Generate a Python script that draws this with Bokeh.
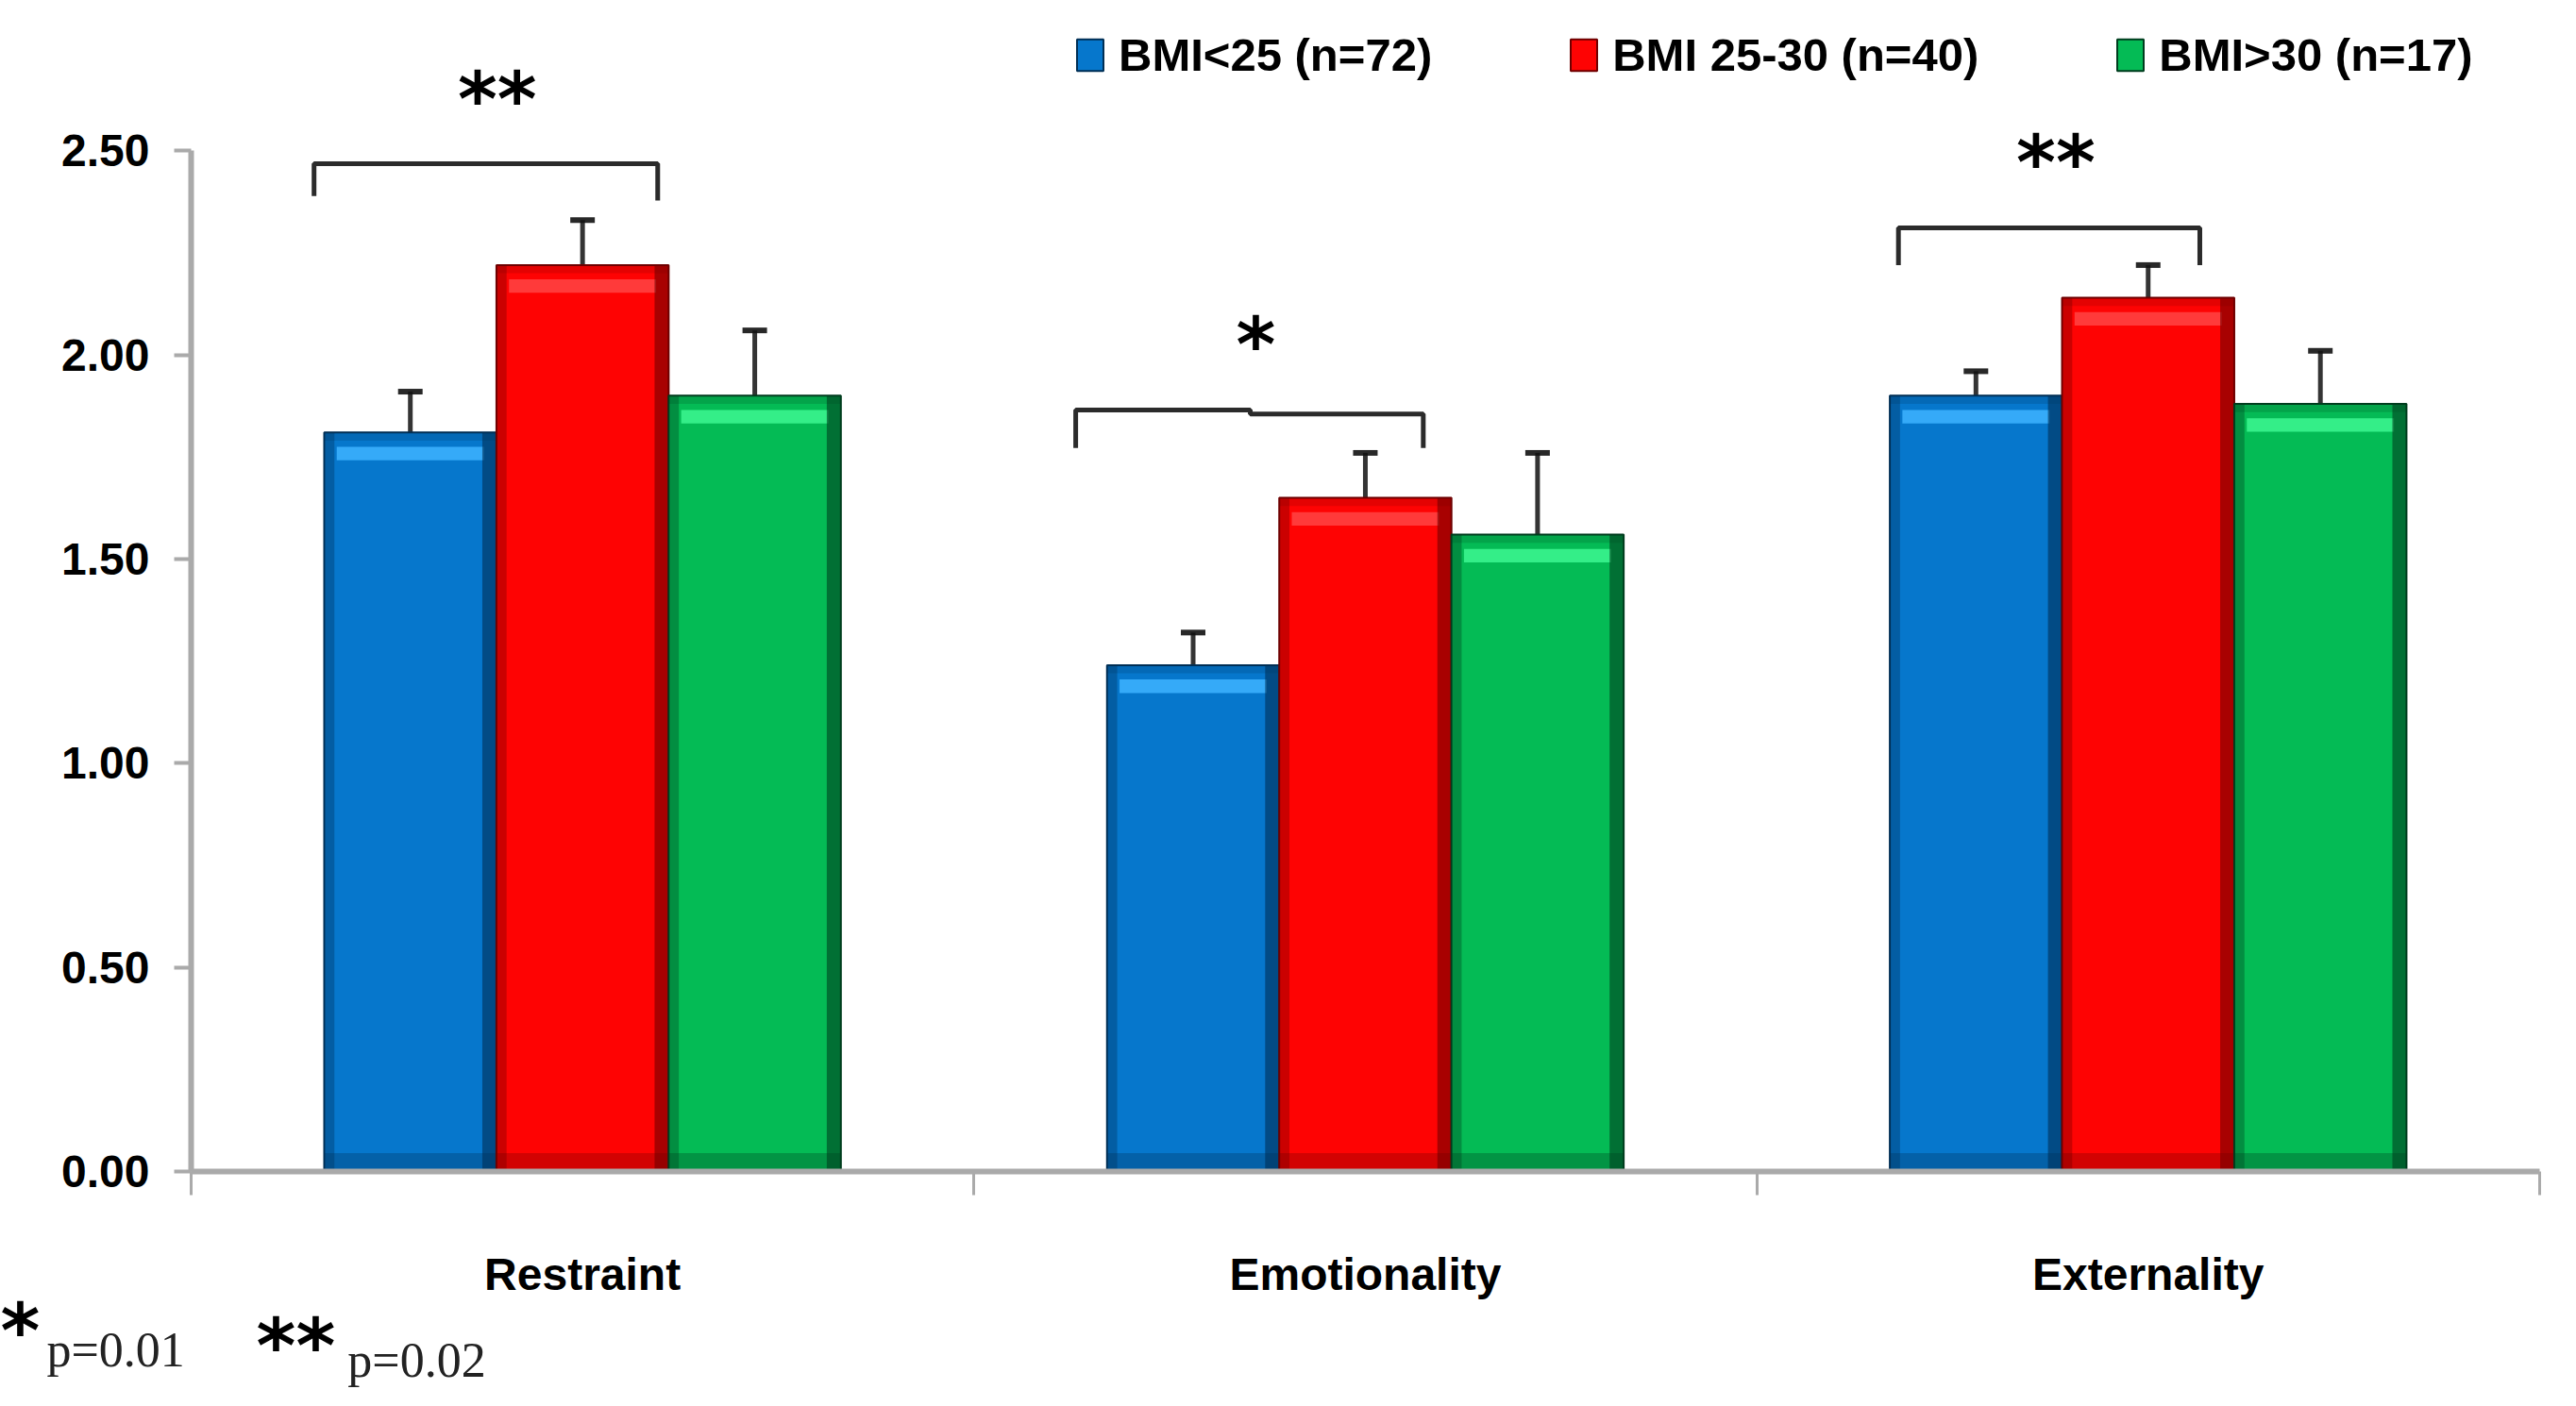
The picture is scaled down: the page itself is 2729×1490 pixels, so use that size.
from bokeh.plotting import figure
from bokeh.models import (ColumnDataSource, Range1d, FixedTicker, NumeralTickFormatter,
                          Whisker, TeeHead, Legend, LegendItem, Label)
from bokeh.core.properties import value
from bokeh.embed import file_html
from bokeh.resources import INLINE

# ---------------- data ----------------
categories = ["Restraint", "Emotionality", "Externality"]
series = ["BMI<25 (n=72)", "BMI 25-30 (n=40)", "BMI>30 (n=17)"]

bmi_low_mean = [1.81, 1.24, 1.90]
bmi_low_lower = [1.69, 1.14, 1.82]
bmi_low_upper = [1.91, 1.32, 1.96]

bmi_mid_mean = [2.22, 1.65, 2.14]
bmi_mid_lower = [2.08, 1.50, 2.05]
bmi_mid_upper = [2.33, 1.76, 2.22]

bmi_high_mean = [1.90, 1.56, 1.88]
bmi_high_lower = [1.71, 1.33, 1.70]
bmi_high_upper = [2.06, 1.76, 2.01]

y_ticks = [0.0, 0.5, 1.0, 1.5, 2.0, 2.5]

# significance brackets (x in category units, y in data units)
bracket_xs = [[0.157, 0.157, 0.596, 0.596],
              [1.130, 1.130, 1.353, 1.353, 1.574, 1.574],
              [2.181, 2.181, 2.566, 2.566]]
bracket_ys = [[2.389, 2.468, 2.468, 2.378],
              [1.772, 1.865, 1.865, 1.855, 1.855, 1.772],
              [2.220, 2.311, 2.311, 2.220]]
star_x = [0.391, 1.360, 2.382]
star_y = [2.673, 2.073, 2.520]
star_text = ["**", "*", "**"]

footnote_marks = ["*", "**"]
footnote_texts = ["p=0.01", "p=0.02"]

# ---------------- style ----------------
W, H = 2712, 1474
PX_X = 829.3      # pixels per category unit
PX_Y = 432.7      # pixels per y unit
X0_PX, Y0_PX, TOP_PX = 202, 1241, 12
main_cols = ["#0677cc", "#fe0303", "#04bb55"]
light_cols = ["#35aaf8", "#ff3a3a", "#34ee88"]
dark_cols = ["#002f55", "#6e0000", "#003d1e"]
bar_w = 0.22
offsets = [-bar_w, 0.0, bar_w]
label_font = "Liberation Sans"
axis_col = "#aaaaaa"
err_col = "#111111"

x_start = -X0_PX / PX_X
x_end = (W - X0_PX) / PX_X
y_end = (Y0_PX - TOP_PX) / PX_Y
y_start = -(H - Y0_PX) / PX_Y

p = figure(width=W, height=H, output_backend="svg", toolbar_location=None,
           x_range=Range1d(x_start, x_end), y_range=Range1d(y_start, y_end),
           min_border_left=0, min_border_right=0,
           min_border_top=TOP_PX, min_border_bottom=0)
p.outline_line_color = None
p.xgrid.visible = False
p.ygrid.visible = False
p.background_fill_color = "white"

means = [bmi_low_mean, bmi_mid_mean, bmi_high_mean]
lowers = [bmi_low_lower, bmi_mid_lower, bmi_high_lower]
uppers = [bmi_low_upper, bmi_mid_upper, bmi_high_upper]

legend_items = []
for s in range(3):
    xs = [i + 0.5 + offsets[s] for i in range(len(categories))]
    tops = means[s]
    src = ColumnDataSource(dict(
        x=xs, top=tops,
        xr=[x + bar_w / 2 - 0.009 for x in xs],
        xl=[x - bar_w / 2 + 0.007 for x in xs],
        hl_l=[x - bar_w / 2 + 0.016 for x in xs],
        hl_r=[x + bar_w / 2 - 0.016 for x in xs],
        hl_t=[t - 0.035 for t in tops],
        hl_b=[t - 0.068 for t in tops],
        rim_b=[t - 0.02 for t in tops],
        bl=[x - bar_w / 2 for x in xs],
        br=[x + bar_w / 2 for x in xs],
        lower=lowers[s], upper=uppers[s],
    ))
    r = p.vbar(x="x", width=bar_w, top="top", bottom=0, source=src,
               fill_color=main_cols[s], line_color=dark_cols[s], line_width=2)
    # bevel shading
    p.quad(left="bl", right="br", top="top", bottom="rim_b", source=src,
           fill_color=dark_cols[s], fill_alpha=0.18, line_color=None)
    p.quad(left="hl_l", right="hl_r", top="hl_t", bottom="hl_b", source=src,
           fill_color=light_cols[s], line_color=None)
    p.vbar(x="xr", width=0.018, top="top", bottom=0, source=src,
           fill_color=dark_cols[s], fill_alpha=0.6, line_color=None)
    p.vbar(x="xl", width=0.012, top="top", bottom=0, source=src,
           fill_color=dark_cols[s], fill_alpha=0.35, line_color=None)
    p.vbar(x="x", width=bar_w, top=0.045, bottom=0, source=src,
           fill_color=dark_cols[s], fill_alpha=0.3, line_color=None)
    # error bars
    wh = Whisker(source=src, base="x", lower="lower", upper="upper",
                 line_color=err_col, line_alpha=0.85, line_width=5,
                 upper_head=TeeHead(size=26, line_width=6, line_color=err_col, line_alpha=0.9),
                 lower_head=TeeHead(size=26, line_width=6, line_color=err_col, line_alpha=0.9))
    p.add_layout(wh)
    legend_items.append(LegendItem(label=series[s], renderers=[r]))

# significance brackets and stars
p.multi_line(xs=bracket_xs, ys=bracket_ys, line_color="#2b2b2b", line_width=5)
p.text(x=star_x, y=star_y, text=star_text, text_font=value("DejaVu Sans"),
       text_font_size="80px", text_font_style="bold", text_align="center",
       text_baseline="alphabetic", y_offset=21, text_color="black")

# legend (location in screen px from the frame's bottom-left corner)
frame_h = H - TOP_PX
legend = Legend(items=legend_items, orientation="horizontal",
                location=(1137, frame_h - 32 - 42),
                glyph_width=35, glyph_height=42, label_standoff=13, spacing=143,
                padding=0, margin=0, border_line_color=None, background_fill_alpha=0,
                label_text_font=label_font, label_text_font_size="49px",
                label_text_font_style="bold", label_text_color="black")
p.add_layout(legend)

# y axis (drawn at x = 0)
ya = p.yaxis[0]
ya.fixed_location = 0
ya.ticker = FixedTicker(ticks=y_ticks)
ya.formatter = NumeralTickFormatter(format="0.00")
ya.bounds = (0, 2.5)
ya.axis_line_color = axis_col
ya.axis_line_width = 6
ya.major_tick_line_color = axis_col
ya.major_tick_line_width = 4
ya.major_tick_out = 18
ya.major_tick_in = 0
ya.minor_tick_line_color = None
ya.major_label_standoff = 26
ya.major_label_text_font = label_font
ya.major_label_text_font_size = "48px"
ya.major_label_text_font_style = "bold"
ya.major_label_text_color = "black"

# x axis (drawn at y = 0)
xa = p.xaxis[0]
xa.fixed_location = 0
xa.bounds = (0, len(categories))
xa.ticker = FixedTicker(ticks=[i + 0.5 for i in range(len(categories))],
                        minor_ticks=[float(i) for i in range(len(categories) + 1)])
xa.major_label_overrides = {i + 0.5: c for i, c in enumerate(categories)}
xa.axis_line_color = axis_col
xa.axis_line_width = 6
xa.major_tick_line_color = None
xa.major_tick_out = 0
xa.major_tick_in = 0
xa.minor_tick_line_color = axis_col
xa.minor_tick_line_width = 3
xa.minor_tick_out = 25
xa.minor_tick_in = 0
xa.major_label_standoff = 57
xa.major_label_text_font = label_font
xa.major_label_text_font_size = "48px"
xa.major_label_text_font_style = "bold"
xa.major_label_text_color = "black"

# footnote
foot_x_marks = [-0.2436, 0.0833]
foot_y_marks = [-0.390, -0.427]
foot_x_texts = [-0.1845, 0.2000]
foot_y_texts = [-0.437, -0.462]
for i in range(2):
    p.add_layout(Label(x=foot_x_marks[i], y=foot_y_marks[i], text=footnote_marks[i],
                       text_font="DejaVu Sans", text_font_size="80px",
                       text_font_style="bold",
                       text_baseline="alphabetic", text_color="black"))
    p.add_layout(Label(x=foot_x_texts[i], y=foot_y_texts[i], text=footnote_texts[i],
                       text_font="Liberation Serif", text_font_size="52px",
                       text_baseline="alphabetic", text_color="#222222"))

open("out.html", "w").write(file_html(p, INLINE))
